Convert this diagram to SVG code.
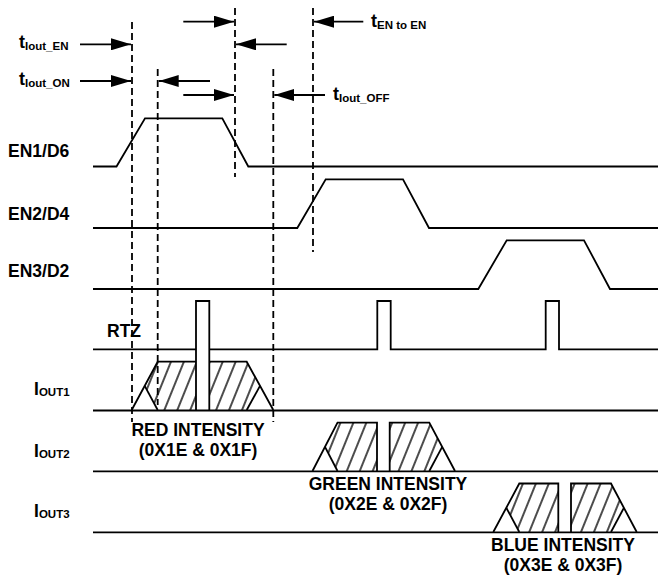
<svg xmlns="http://www.w3.org/2000/svg" width="658" height="576" viewBox="0 0 658 576">
<defs>
<marker id="ah" markerUnits="userSpaceOnUse" markerWidth="20" markerHeight="12" refX="20" refY="6" orient="auto">
<path d="M0,0 L20,6 L0,12 z" fill="#000"/>
</marker>
<pattern id="hatch" patternUnits="userSpaceOnUse" width="12" height="10" patternTransform="rotate(22)">
<line x1="6" y1="-1" x2="6" y2="11" stroke="#000" stroke-width="1.4"/>
</pattern>
<style>
.w{fill:none;stroke:#000;stroke-width:1.8;stroke-linejoin:miter}
.d{fill:none;stroke:#000;stroke-width:1.8;stroke-dasharray:7 4}
.a{stroke:#000;stroke-width:1.8;marker-end:url(#ah)}
.h{fill:url(#hatch);stroke:none}
text{font-family:"Liberation Sans",Arial,Helvetica,sans-serif;font-weight:bold;fill:#000}
.lb{font-size:17.5px}
.t{font-size:18px}
.sub{font-size:11.5px}
.c{text-anchor:middle}
</style>
</defs>

<g id="labels">
<text class="lb" x="8" y="157">EN1/D6</text>
<text class="lb" x="8" y="220">EN2/D4</text>
<text class="lb" x="8" y="277">EN3/D2</text>
<text class="lb" x="107" y="337">RTZ</text>
<text class="lb" x="34" y="395">I<tspan class="sub" dy="1">OUT1</tspan></text>
<text class="lb" x="34" y="457">I<tspan class="sub" dy="1">OUT2</tspan></text>
<text class="lb" x="34" y="517">I<tspan class="sub" dy="1">OUT3</tspan></text>
</g>

<g id="timing-labels">
<text class="t" x="19" y="48">t<tspan class="sub" dy="2">Iout_EN</tspan></text>
<text class="t" x="19" y="85">t<tspan class="sub" dy="2">Iout_ON</tspan></text>
<text class="t" x="371" y="27">t<tspan class="sub" dy="2">EN to EN</tspan></text>
<text class="t" x="333" y="100">t<tspan class="sub" dy="2">Iout_OFF</tspan></text>
</g>

<g id="intensity-labels">
<text class="lb c" x="198" y="436">RED INTENSITY</text>
<text class="lb c" x="198" y="456">(0X1E &amp; 0X1F)</text>
<text class="lb c" x="388" y="490">GREEN INTENSITY</text>
<text class="lb c" x="388" y="510">(0X2E &amp; 0X2F)</text>
<text class="lb c" x="563" y="551">BLUE INTENSITY</text>
<text class="lb c" x="563" y="571">(0X3E &amp; 0X3F)</text>
</g>

<g id="EN1">
<polyline class="w" points="93,166.5 116.5,166.5 145,118.3 222.3,118.3 248.3,166.5 658,166.5"/>
</g>
<g id="EN2">
<polyline class="w" points="93,228 297.3,228 325.7,179.3 403,179.3 429,228 658,228"/>
</g>
<g id="EN3">
<polyline class="w" points="93,289 478.3,289 506.7,240.3 584,240.3 610,289 658,289"/>
</g>
<g id="RTZ">
<polyline class="w" points="93,349.3 196,349.3"/>
<polyline class="w" points="196,410 196,301 209.3,301 209.3,410"/>
<polyline class="w" points="209.3,349.3 377.3,349.3 377.3,301 390.7,301 390.7,349.3 545.7,349.3 545.7,301 559,301 559,349.3 658,349.3"/>
</g>

<g id="IOUT1">
<polygon class="h" points="144.7,385.9 157.7,361.7 196,361.7 196,410 157.7,410"/>
<polygon class="h" points="209.3,361.7 246.7,361.7 260,385.9 246.7,410 209.3,410"/>
<polyline class="w" points="93,410.5 658,410.5"/>
<polyline class="w" points="131.7,410 157.7,361.7 196,361.7"/>
<polyline class="w" points="209.3,361.7 246.7,361.7 273.3,410"/>
<line class="w" x1="144.7" y1="385.9" x2="157.7" y2="410"/>
<line class="w" x1="260" y1="385.9" x2="246.7" y2="410"/>
</g>

<g id="IOUT2">
<polygon class="h" points="325,446.8 337.5,422.7 377,422.7 377,471 337.5,471"/>
<polygon class="h" points="389.7,422.7 429.3,422.7 442.2,446.8 429.3,471 389.7,471"/>
<polyline class="w" points="93,471.3 658,471.3"/>
<polyline class="w" points="312.5,471 337.5,422.7 377,422.7 377,471"/>
<polyline class="w" points="389.7,471 389.7,422.7 429.3,422.7 455,471"/>
<line class="w" x1="325" y1="446.8" x2="337.5" y2="471"/>
<line class="w" x1="442.2" y1="446.8" x2="429.3" y2="471"/>
</g>

<g id="IOUT3">
<polygon class="h" points="506.3,507.8 519.3,483.5 558.3,483.5 558.3,532 519.3,532"/>
<polygon class="h" points="571,483.5 611,483.5 623.9,507.8 611,532 571,532"/>
<polyline class="w" points="93,532.3 658,532.3"/>
<polyline class="w" points="493.3,532 519.3,483.5 558.3,483.5 558.3,532"/>
<polyline class="w" points="571,532 571,483.5 611,483.5 636.7,532"/>
<line class="w" x1="506.3" y1="507.8" x2="519.3" y2="532"/>
<line class="w" x1="623.9" y1="507.8" x2="611" y2="532"/>
</g>

<g id="connectors">
<line class="d" x1="132" y1="22" x2="132" y2="422"/>
<line class="d" x1="157.7" y1="69" x2="157.7" y2="405"/>
<line class="d" x1="235" y1="8" x2="235" y2="177"/>
<line class="d" x1="273.3" y1="69" x2="273.3" y2="422"/>
<line class="d" x1="313" y1="8" x2="313" y2="252"/>
<line class="a" x1="80" y1="44.3" x2="131" y2="44.3"/>
<line class="a" x1="80" y1="81" x2="131" y2="81"/>
<line class="a" x1="183.3" y1="21.7" x2="234" y2="21.7"/>
<line class="a" x1="286.7" y1="44.3" x2="236" y2="44.3"/>
<line class="a" x1="210" y1="81" x2="158.7" y2="81"/>
<line class="a" x1="183.3" y1="95" x2="234" y2="95"/>
<line class="a" x1="325" y1="95" x2="274.3" y2="95"/>
<line class="a" x1="363.3" y1="21.7" x2="314" y2="21.7"/>
</g>
</svg>
